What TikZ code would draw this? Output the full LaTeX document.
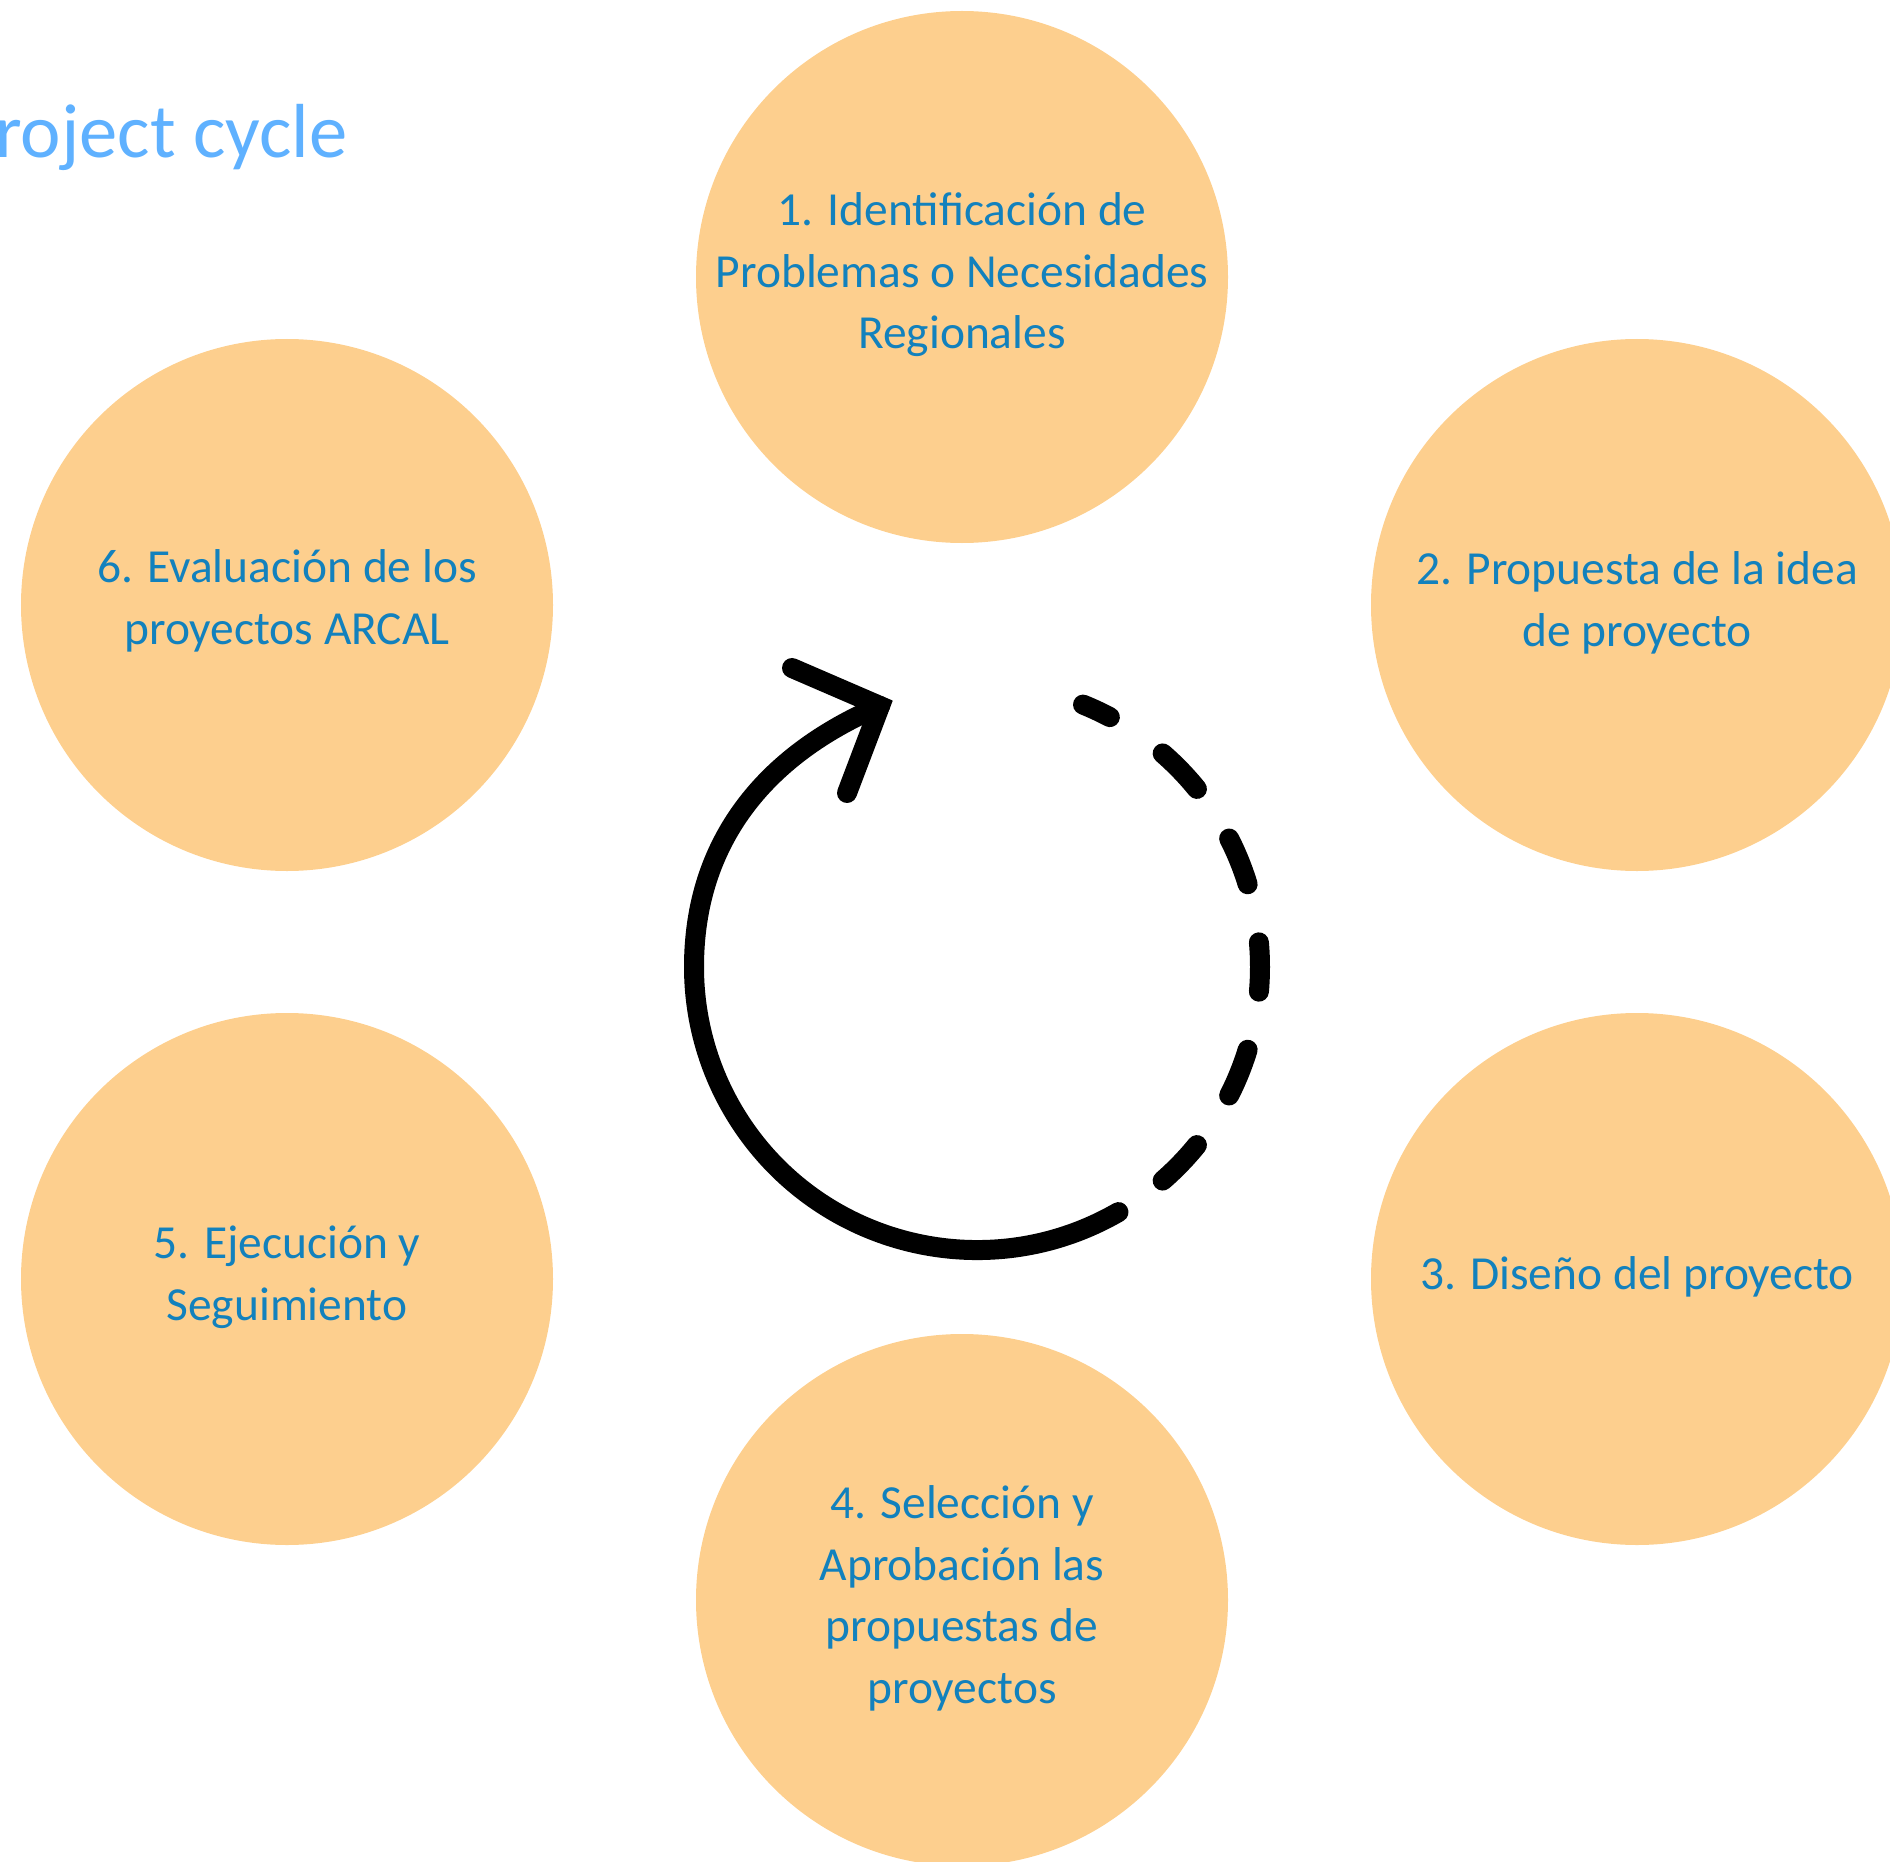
\documentclass[tikz,border=0pt]{standalone}
\usepackage{fontspec}
\setmainfont{Carlito}
\definecolor{stagefill}{RGB}{253,207,142}
\definecolor{stageblue}{RGB}{18,129,189}
\definecolor{titleblue}{RGB}{95,177,255}
\newcommand\stagefont{\fontsize{13.5}{17.5}\selectfont}
\newcommand\titlefont{\fontsize{21.8}{25}\selectfont}
\begin{document}
\begin{tikzpicture}[
    stage/.style={circle, fill=stagefill, minimum size=5.32cm, inner sep=0pt},
    stagetext/.style={text=stageblue, font=\stagefont, align=center, anchor=base, inner sep=0pt},
    cycleline/.style={line width=0.2cm, line cap=round}]
    \useasboundingbox (0,0) rectangle (18.90,-18.62);
    \node[text=titleblue, font=\titlefont, anchor=base east, inner sep=0pt] (title) at (3.48,-1.58) {Project cycle};
    % the six stages
    \foreach \n/\x/\y in {s1/9.62/-2.77, s2/16.37/-6.05, s3/16.37/-12.79,
                          s4/9.62/-16.00, s5/2.87/-12.79, s6/2.87/-6.05}
      \node[stage] (\n) at (\x,\y) {};
    \node[stagetext] (t1) at (9.62,-3.49) {1. Identificación de\\Problemas o Necesidades\\Regionales};
    \node[stagetext] (t2) at (16.37,-6.46) {2. Propuesta de la idea\\de proyecto};
    \node[stagetext] (t3) at (16.37,-12.89) {3. Diseño del proyecto};
    \node[stagetext] (t4) at (9.62,-17.03) {4. Selección y\\Aprobación las\\propuestas de\\proyectos};
    \node[stagetext] (t5) at (2.87,-13.20) {5. Ejecución y\\Seguimiento};
    \node[stagetext] (t6) at (2.87,-6.44) {6. Evaluación de los\\proyectos ARCAL};
    % cycle symbol
    \coordinate (mid) at (9.77,-9.67);
    \coordinate (tip) at (8.80,-7.06);
    \draw[cycleline] (mid) ++(300:2.83) arc[start angle=300, end angle=180, radius=2.83]
      .. controls (6.94,-8.42) and (7.65,-7.55) .. (tip);
    \draw[cycleline, line join=miter] (7.92,-6.68) -- (tip) -- (8.47,-7.93);
    \foreach \a in {-44,-22,0,22,44}
      \draw[cycleline] (mid) ++(\a-5:2.83) arc[start angle=\a-5, end angle=\a+5, radius=2.83];
    \draw[cycleline] (mid) ++(62:2.83) arc[start angle=62, end angle=68, radius=2.83];
\end{tikzpicture}
\end{document}
